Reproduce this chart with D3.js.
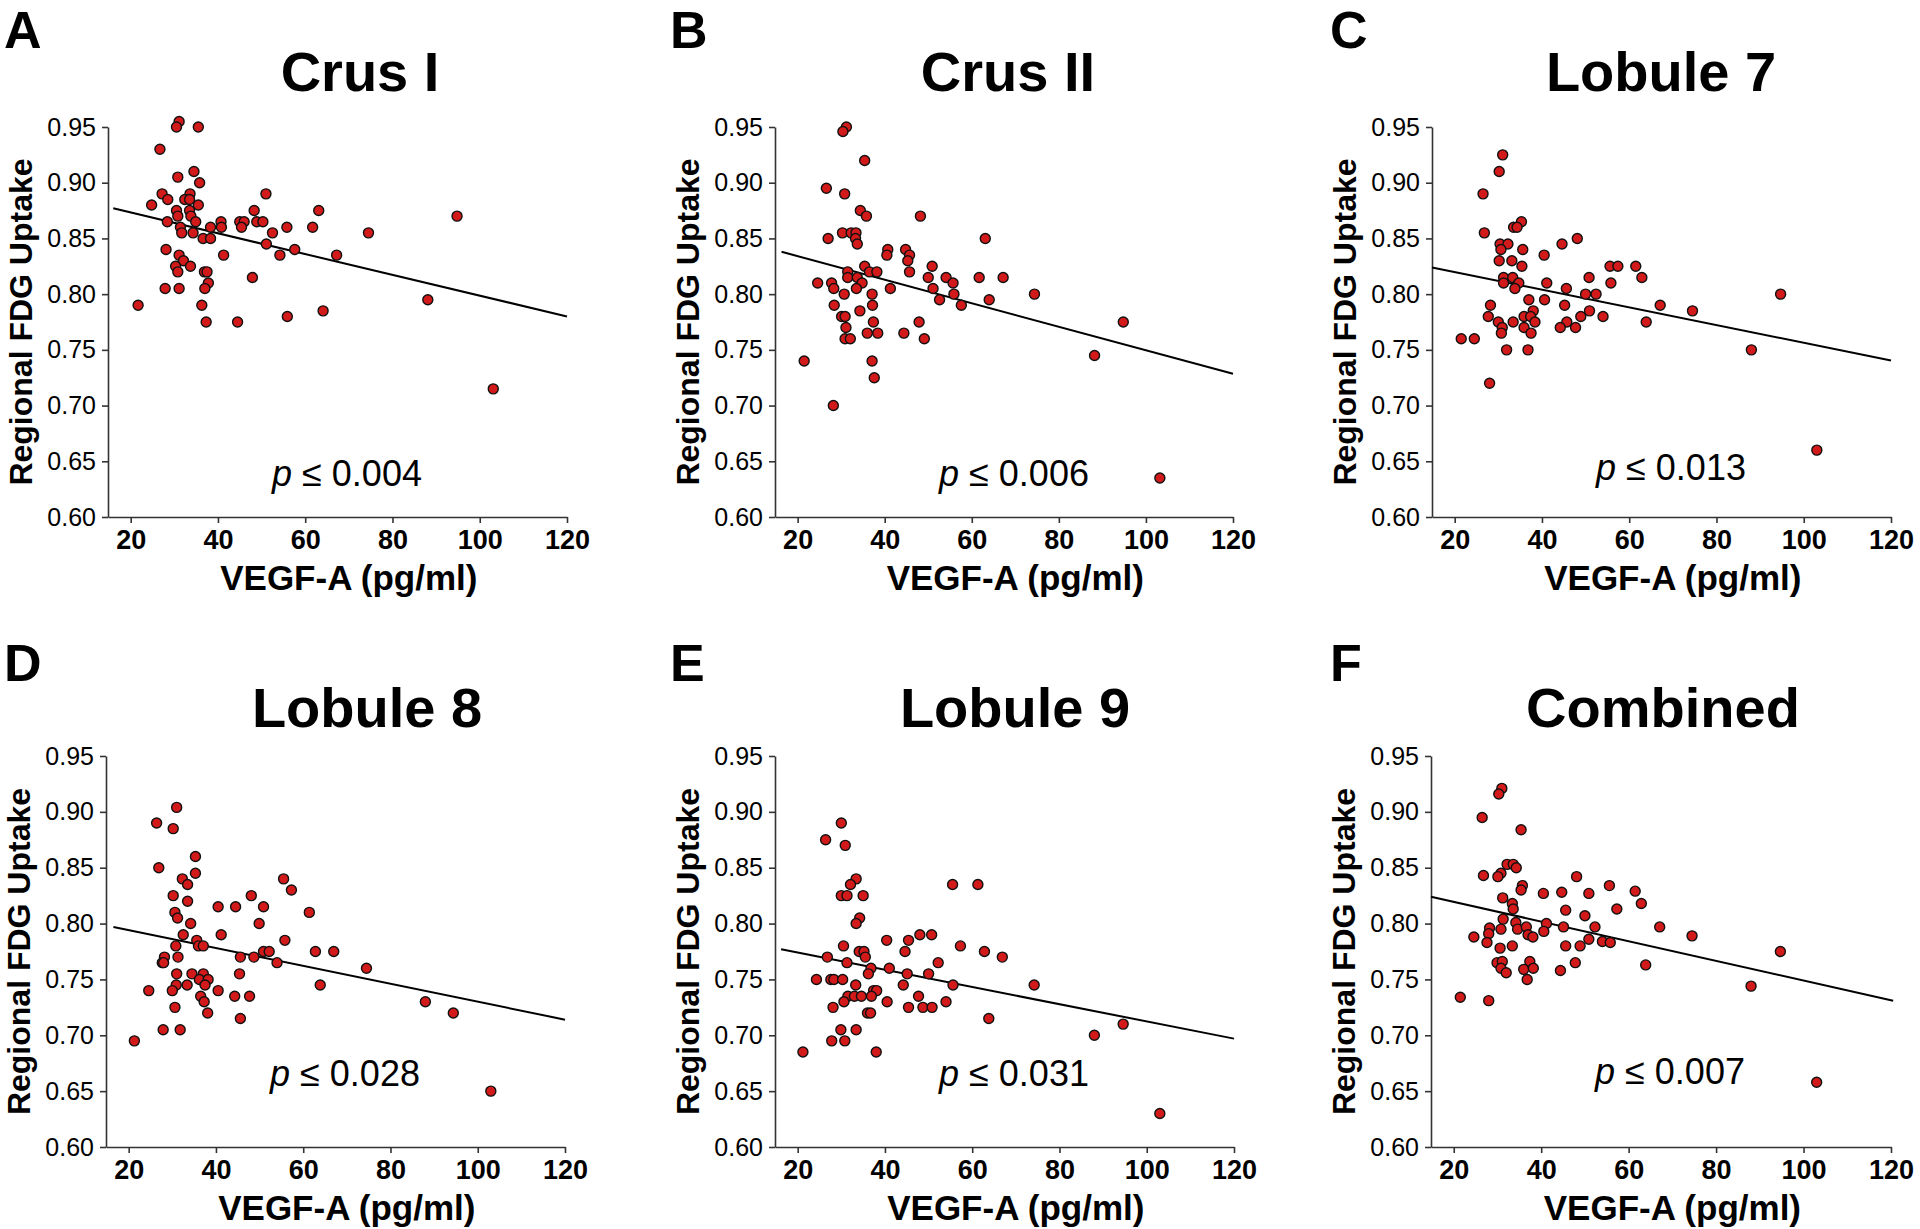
<!DOCTYPE html>
<html><head><meta charset="utf-8">
<script src="https://cdn.jsdelivr.net/npm/d3@7"></script>
<style>
body{margin:0;background:#fff}
svg{display:block}
text{font-family:"Liberation Sans",Arial,Helvetica,sans-serif;fill:#000}
</style>
</head><body>
<script>
// ---------- data ----------
const panelLetters = ["A","B","C","D","E","F"];
const panelTitles = ["Crus I","Crus II","Lobule 7","Lobule 8","Lobule 9","Combined"];
const pValues = ["0.004","0.006","0.013","0.028","0.031","0.007"];
const xTicks = [20,40,60,80,100,120];
const yTicks = [0.60,0.65,0.70,0.75,0.80,0.85,0.90,0.95];
const xLabel = "VEGF-A (pg/ml)";
const yLabel = "Regional FDG Uptake";
const xDomain = [14.8,120];
const yDomain = [0.60,0.95];

const crusI = [[31.1,0.955],[30.5,0.95],[35.5,0.95],[26.7,0.93],[34.5,0.91],[30.8,0.905],[35.8,0.90],[27.2,0.89],[33.6,0.89],[51.0,0.89],[28.5,0.885],[32.4,0.885],[33.5,0.885],[24.8,0.88],[35.5,0.88],[30.5,0.875],[33.5,0.875],[48.3,0.875],[63.1,0.875],[30.8,0.87],[33.8,0.87],[94.8,0.87],[28.4,0.865],[34.9,0.865],[40.7,0.865],[45.0,0.865],[46.0,0.865],[48.9,0.865],[50.3,0.865],[31.4,0.86],[38.3,0.86],[40.8,0.86],[45.4,0.86],[55.8,0.86],[61.7,0.86],[31.7,0.855],[34.3,0.855],[52.5,0.855],[74.5,0.855],[36.6,0.85],[38.3,0.85],[51.1,0.845],[28.1,0.84],[57.6,0.84],[31.1,0.835],[41.3,0.835],[54.2,0.835],[67.2,0.835],[32.1,0.83],[30.3,0.825],[33.7,0.825],[30.8,0.82],[36.9,0.82],[37.5,0.82],[37.8,0.81],[47.9,0.815],[27.9,0.805],[31.1,0.805],[37.0,0.805],[21.7,0.79],[36.3,0.79],[88.1,0.795],[64.1,0.785],[37.3,0.775],[44.5,0.775],[55.9,0.78],[103.1,0.715]];

const crusII = [[31.2,0.95],[30.4,0.946],[35.4,0.92],[26.6,0.895],[30.8,0.89],[34.4,0.875],[35.8,0.87],[48.2,0.87],[30.3,0.855],[32.3,0.855],[33.4,0.855],[27.0,0.85],[33.3,0.85],[63.1,0.85],[33.7,0.845],[40.7,0.84],[44.8,0.84],[40.5,0.835],[45.7,0.835],[45.3,0.83],[35.4,0.825],[50.9,0.825],[31.5,0.82],[36.5,0.82],[38.2,0.82],[45.7,0.82],[31.5,0.815],[33.7,0.815],[50.0,0.815],[54.1,0.815],[61.7,0.815],[67.2,0.815],[24.6,0.81],[27.8,0.81],[34.8,0.81],[55.7,0.81],[28.3,0.805],[33.5,0.805],[41.3,0.805],[51.1,0.805],[30.7,0.80],[37.1,0.80],[55.9,0.80],[74.4,0.80],[52.6,0.795],[64.0,0.795],[28.4,0.79],[37.2,0.79],[57.6,0.79],[34.3,0.785],[30.1,0.78],[30.9,0.78],[37.4,0.775],[47.9,0.775],[94.8,0.775],[31.1,0.77],[36.0,0.765],[38.4,0.765],[44.4,0.765],[30.9,0.76],[32.1,0.76],[49.1,0.76],[21.5,0.74],[37.1,0.74],[88.2,0.745],[37.6,0.725],[28.2,0.70],[103.2,0.635]];

const lobule7 = [[31.0,0.925],[30.2,0.91],[26.5,0.89],[35.3,0.865],[33.5,0.86],[34.3,0.86],[26.8,0.855],[30.4,0.845],[32.2,0.845],[44.6,0.845],[48.1,0.85],[30.6,0.84],[35.6,0.84],[40.5,0.835],[30.2,0.83],[33.1,0.83],[35.4,0.825],[55.6,0.825],[57.4,0.825],[61.5,0.825],[31.2,0.815],[33.3,0.815],[50.8,0.815],[62.9,0.815],[31.2,0.81],[34.7,0.81],[41.1,0.81],[55.8,0.81],[33.8,0.805],[45.6,0.805],[50.0,0.80],[52.4,0.80],[94.7,0.80],[37.0,0.795],[40.6,0.795],[28.2,0.79],[45.2,0.79],[67.1,0.79],[38.0,0.785],[50.9,0.785],[74.5,0.785],[27.7,0.78],[35.9,0.78],[37.4,0.78],[48.9,0.78],[54.0,0.78],[30.0,0.775],[33.4,0.775],[38.4,0.775],[45.7,0.775],[63.9,0.775],[30.9,0.77],[35.9,0.77],[44.2,0.77],[47.7,0.77],[30.7,0.765],[37.5,0.765],[21.5,0.76],[24.5,0.76],[31.9,0.75],[36.8,0.75],[88.0,0.75],[28.0,0.72],[103.0,0.66]];

const lobule8 = [[31.0,0.904],[26.4,0.89],[30.2,0.885],[35.3,0.86],[26.9,0.85],[35.3,0.845],[32.3,0.84],[55.5,0.84],[33.5,0.835],[57.3,0.83],[30.2,0.825],[48.1,0.825],[33.5,0.82],[40.5,0.815],[44.5,0.815],[50.9,0.815],[30.6,0.81],[61.4,0.81],[31.2,0.805],[34.2,0.80],[49.9,0.80],[32.5,0.79],[41.2,0.79],[35.6,0.785],[55.8,0.785],[30.8,0.78],[36.0,0.78],[37.1,0.78],[50.9,0.775],[52.2,0.775],[62.8,0.775],[67.0,0.775],[28.2,0.77],[31.3,0.77],[45.6,0.77],[48.7,0.77],[27.7,0.765],[28.0,0.765],[54.0,0.765],[74.5,0.76],[31.0,0.755],[34.5,0.755],[37.1,0.755],[45.4,0.755],[36.2,0.75],[38.2,0.75],[30.9,0.745],[33.4,0.745],[37.5,0.745],[63.9,0.745],[24.6,0.74],[30.0,0.74],[40.5,0.74],[36.5,0.735],[44.3,0.735],[47.7,0.735],[37.3,0.73],[88.0,0.73],[30.6,0.725],[38.1,0.72],[94.4,0.72],[45.6,0.715],[27.9,0.705],[31.8,0.705],[21.3,0.695],[103.0,0.65]];

const lobule9 = [[30.0,0.89],[26.4,0.875],[30.9,0.87],[33.4,0.84],[32.1,0.835],[55.5,0.835],[61.3,0.835],[30.0,0.825],[31.3,0.825],[35.0,0.825],[34.2,0.805],[33.4,0.80],[40.4,0.785],[45.4,0.785],[48.0,0.79],[50.7,0.79],[30.5,0.78],[57.3,0.78],[34.1,0.775],[35.2,0.775],[44.6,0.775],[62.8,0.775],[26.8,0.77],[35.5,0.77],[66.9,0.77],[31.3,0.765],[52.2,0.765],[36.8,0.76],[41.0,0.76],[36.2,0.755],[45.1,0.755],[50.0,0.755],[24.3,0.75],[27.6,0.75],[28.3,0.75],[30.3,0.75],[33.3,0.745],[44.2,0.745],[55.6,0.745],[74.2,0.745],[37.4,0.74],[38.1,0.74],[31.5,0.735],[33.0,0.735],[34.6,0.735],[36.9,0.735],[47.7,0.735],[30.6,0.73],[40.5,0.73],[54.0,0.73],[28.1,0.725],[45.4,0.725],[48.7,0.725],[50.8,0.725],[36.0,0.72],[36.7,0.72],[63.8,0.715],[94.6,0.71],[29.9,0.705],[33.4,0.705],[88.0,0.70],[27.8,0.695],[30.8,0.695],[21.2,0.685],[38.0,0.685],[103.0,0.63]];

const combined = [[31.0,0.921],[30.3,0.916],[26.5,0.895],[35.4,0.884],[32.2,0.853],[33.6,0.853],[34.3,0.85],[30.8,0.845],[30.1,0.842],[26.8,0.843],[48.1,0.842],[35.7,0.834],[35.4,0.83],[55.6,0.834],[40.5,0.827],[44.7,0.828],[50.9,0.827],[61.5,0.829],[31.2,0.823],[33.4,0.818],[62.9,0.818],[33.6,0.813],[45.6,0.812],[57.3,0.813],[31.3,0.804],[50.0,0.807],[34.2,0.801],[41.2,0.80],[45.1,0.797],[52.3,0.797],[67.1,0.797],[28.2,0.796],[30.8,0.795],[34.6,0.795],[36.6,0.797],[40.6,0.793],[28.0,0.791],[37.0,0.79],[38.1,0.788],[24.6,0.788],[74.5,0.789],[50.9,0.786],[54.0,0.784],[55.8,0.783],[27.6,0.783],[45.6,0.78],[33.4,0.78],[48.9,0.78],[30.6,0.778],[29.9,0.765],[31.1,0.766],[37.4,0.766],[47.8,0.765],[63.9,0.763],[94.7,0.775],[30.8,0.760],[32.0,0.756],[36.0,0.759],[38.2,0.760],[44.4,0.758],[36.8,0.75],[88.0,0.744],[21.5,0.734],[28.0,0.731],[103.0,0.658]];

const panelData = [crusI, crusII, lobule7, lobule8, lobule9, combined];

// regression line endpoints: [xStart, yStart, xEnd, yEnd]
const fitLines = [
  [16.0,0.877,120,0.780],
  [16.3,0.838,120,0.7285],
  [14.8,0.824,120,0.7405],
  [16.5,0.797,120,0.714],
  [16.2,0.777,120,0.697],
  [14.8,0.824,120.5,0.731]
];

// ---------- layout (pixels) ----------
const layout = [
  {left:108, right:567,  top:127, bottom:517,  titleX:360,  titleY:91,  letterX:4,    letterY:48,  pY:486},
  {left:775, right:1233, top:127, bottom:517,  titleX:1008, titleY:91,  letterX:670,  letterY:48,  pY:486},
  {left:1432,right:1891, top:127, bottom:517,  titleX:1661, titleY:91,  letterX:1330, letterY:48,  pY:480},
  {left:106, right:565,  top:756, bottom:1147, titleX:367,  titleY:727, letterX:4,    letterY:681, pY:1086},
  {left:775, right:1234, top:756, bottom:1147, titleX:1015, titleY:727, letterX:670,  letterY:681, pY:1086},
  {left:1431,right:1891, top:756, bottom:1147, titleX:1663, titleY:727, letterX:1330, letterY:681, pY:1084}
];

const W = 1920, H = 1229;
const svg = d3.select("body").append("svg").attr("width", W).attr("height", H);
svg.append("rect").attr("width", W).attr("height", H).attr("fill", "#fff");

panelData.forEach((data, i) => {
  const L = layout[i];
  const x = d3.scaleLinear().domain(xDomain).range([L.left, L.right]);
  const y = d3.scaleLinear().domain(yDomain).range([L.bottom, L.top]);
  const g = svg.append("g");

  // panel letter
  g.append("text").attr("x", L.letterX).attr("y", L.letterY)
    .attr("font-size", 52).attr("font-weight", "bold").text(panelLetters[i]);
  // title
  g.append("text").attr("x", L.titleX).attr("y", L.titleY).attr("text-anchor", "middle")
    .attr("font-size", 56).attr("font-weight", "bold").text(panelTitles[i]);

  // axes
  const ya = g.append("g").attr("transform", `translate(${L.left},0)`)
    .call(d3.axisLeft(y).tickValues(yTicks).tickFormat(d3.format(".2f")).tickSize(6).tickSizeOuter(0).tickPadding(6));
  ya.selectAll("text").attr("font-size", 25).attr("font-family", null).attr("fill", "#000");
  const xa = g.append("g").attr("transform", `translate(0,${L.bottom})`)
    .call(d3.axisBottom(x).tickValues(xTicks).tickFormat(d3.format("d")).tickSize(6).tickSizeOuter(0).tickPadding(7));
  xa.selectAll("text").attr("font-size", 27).attr("font-weight", "bold").attr("font-family", null).attr("fill", "#000");
  g.selectAll(".domain, .tick line").attr("stroke", "#333").attr("stroke-width", 1.6);

  // axis labels
  g.append("text").attr("x", x(70)).attr("y", L.bottom + 73).attr("text-anchor", "middle")
    .attr("font-size", 35).attr("font-weight", "bold").text(xLabel);
  g.append("text").attr("transform", `translate(${L.left - 76},${(L.top + L.bottom) / 2}) rotate(-90)`)
    .attr("text-anchor", "middle").attr("font-size", 32).attr("font-weight", "bold").text(yLabel);

  // regression line
  const f = fitLines[i];
  g.append("line").attr("x1", x(f[0])).attr("y1", y(f[1])).attr("x2", x(f[2])).attr("y2", y(f[3]))
    .attr("stroke", "#000").attr("stroke-width", 2);

  // points
  g.append("g").selectAll("circle").data(data).join("circle")
    .attr("cx", d => x(d[0])).attr("cy", d => y(d[1])).attr("r", 5)
    .attr("fill", "#d21a1a").attr("stroke", "#111").attr("stroke-width", 1.4);

  // p-value
  const pt = g.append("text").attr("x", L.left + 239).attr("y", L.pY).attr("text-anchor", "middle")
    .attr("font-size", 36);
  pt.append("tspan").attr("font-style", "italic").text("p");
  pt.append("tspan").text(" \u2264 " + pValues[i]);
});
</script>
</body></html>
